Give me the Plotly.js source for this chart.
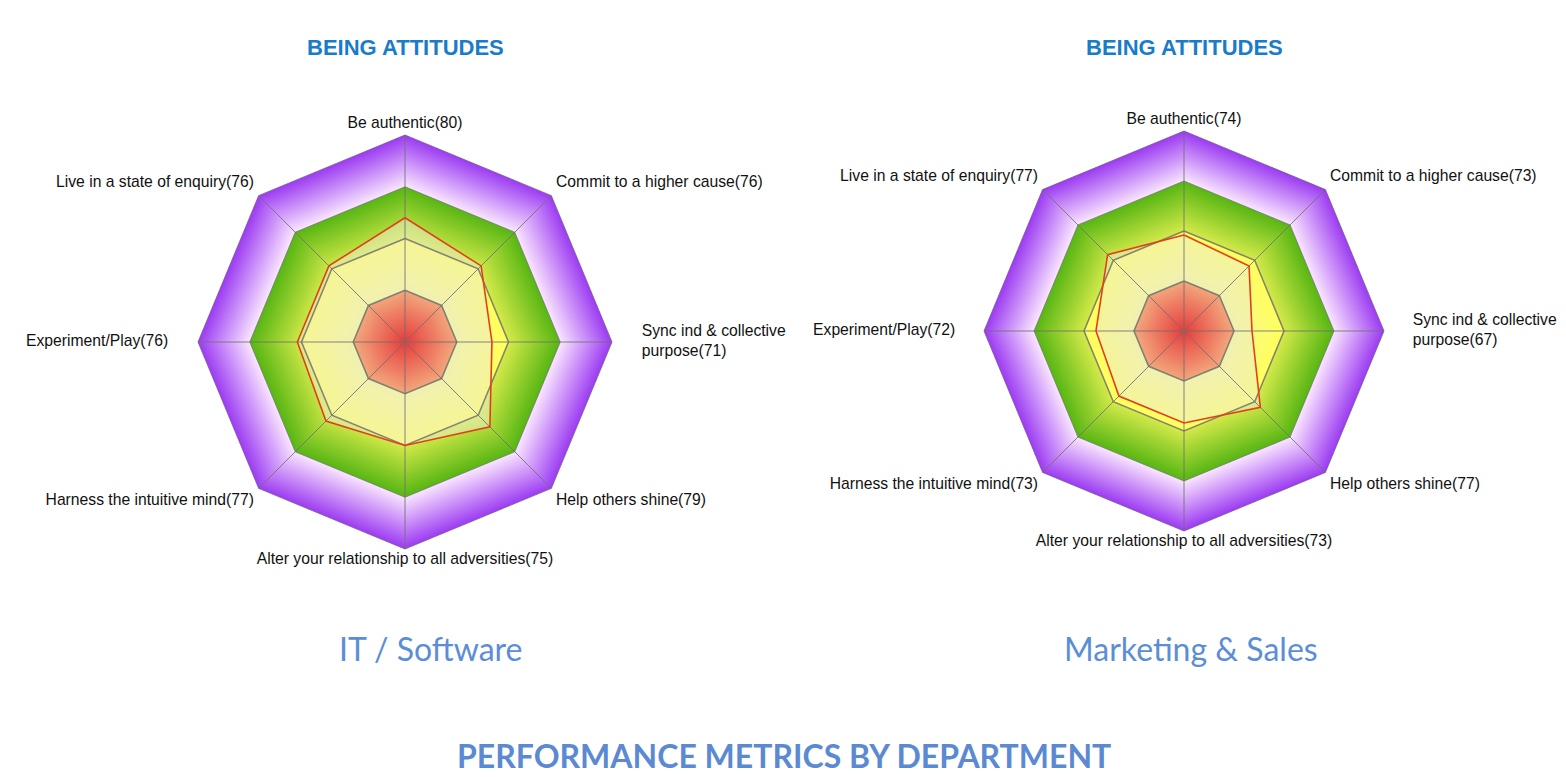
<!DOCTYPE html>
<html><head><meta charset="utf-8">
<script src="https://cdn.plot.ly/plotly-3.0.1.min.js"></script>
<style>html,body{margin:0;padding:0;background:#fff}#chart{width:1566px;height:777px}</style>
</head><body><div id="chart"></div>
<script>
// ---- data ----
const attitudes = ["Be authentic", "Commit to a higher cause", "Sync ind & collective<br>purpose", "Help others shine",
  "Alter your relationship to all adversities", "Harness the intuitive mind", "Experiment/Play", "Live in a state of enquiry"];
const itSoftware = [80, 76, 71, 79, 75, 77, 76, 76];
const marketingSales = [74, 73, 67, 77, 73, 73, 72, 77];
const departments = ["IT / Software", "Marketing & Sales"];
const bandEdges = [50, 62.5, 75, 87.5, 100];
const chartTitle = "BEING ATTITUDES";
const mainTitle = "PERFORMANCE METRICS BY DEPARTMENT";

// ---- styles ----
const bandColors = [
  ["#e63c3c", "#f2a67c"],   // inner red
  ["#f6f694", "#ffff5c"],   // yellow
  ["#d4ea4a", "#58b614"],   // green
  ["#fae6ff", "#9c3cf2"]    // purple
];
const W = 1566, H = 777;
const RMAX = 108;                       // radial room kept outside the chart for the labels
const charts = [{cx:405, cy:342, r:207}, {cx:1184, cy:331, r:200}];
function domainOf(c){
  const R = c.r*(RMAX-bandEdges[0])/(bandEdges[4]-bandEdges[0]);
  return {x:[(c.cx-R)/W, (c.cx+R)/W], y:[(H-c.cy-R)/H, (H-c.cy+R)/H]};
}
const STEPS = 26;
const labelFont = {family:'"Liberation Sans", Arial, sans-serif', size:15.7, color:'#111'};

function hex2rgb(h){return [parseInt(h.substr(1,2),16),parseInt(h.substr(3,2),16),parseInt(h.substr(5,2),16)];}
function mix(a,b,t){const A=hex2rgb(a),B=hex2rgb(b);return 'rgb('+A.map((v,i)=>Math.round(v+(B[i]-v)*t)).join(',')+')';}

const traces = [];
function ring(sub, labels, r, opts){
  const rr = labels.map(()=>r); rr.push(r);
  const th = labels.slice(); th.push(labels[0]);
  return Object.assign({type:'scatterpolar', subplot:sub, r:rr, theta:th, hoverinfo:'skip', showlegend:false}, opts);
}
function bandSteps(sub, labels, b){
  const e0 = bandEdges[b], e1 = bandEdges[b+1];
  for(let k=0;k<STEPS;k++){
    const r = e1 - k*(e1-e0)/STEPS;
    const t = 1 - (k+0.5)/STEPS;
    traces.push(ring(sub, labels, r, {mode:'lines', line:{width:0}, fill:'toself', fillcolor:mix(bandColors[b][0], bandColors[b][1], t)}));
  }
}

[itSoftware, marketingSales].forEach((vals, d)=>{
  const sub = d===0 ? 'polar' : 'polar2';
  const labels = attitudes.map((a,i)=>a+'('+vals[i]+')');
  for(let b=3;b>=1;b--) bandSteps(sub, labels, b);
  const rr = vals.slice(); rr.push(vals[0]);
  const th = labels.slice(); th.push(labels[0]);
  traces.push({type:'scatterpolar', subplot:sub, r:rr, theta:th, mode:'lines', line:{width:0},
    fill:'toself', fillcolor:'rgba(236,236,205,0.5)', hoverinfo:'skip', showlegend:false});
  bandSteps(sub, labels, 0);
  traces.push(ring(sub, labels, bandEdges[1], {mode:'lines', line:{color:'rgba(120,120,110,0.9)', width:1.6}}));
  traces.push(ring(sub, labels, bandEdges[2], {mode:'lines', line:{color:'rgba(120,120,110,0.9)', width:1.6}}));
  traces.push(ring(sub, labels, bandEdges[3], {mode:'lines', line:{color:'rgba(110,110,110,0.7)', width:1}}));
  traces.push(ring(sub, labels, bandEdges[4], {mode:'lines', line:{color:'rgba(120,90,150,0.8)', width:1}}));
  const sr = [], st = [];
  labels.forEach(l=>{ sr.push(bandEdges[0], bandEdges[4], null); st.push(l, l, l); });
  traces.push({type:'scatterpolar', subplot:sub, r:sr, theta:st, mode:'lines', connectgaps:false,
    line:{color:'rgba(110,110,110,0.85)', width:1}, hoverinfo:'skip', showlegend:false});
  traces.push({type:'scatterpolar', subplot:sub, r:rr, theta:th, mode:'lines',
    line:{color:'#e2401a', width:1.6}, hoverinfo:'skip', showlegend:false});
  // category labels just outside each vertex
  const n = labels.length, lr = [], pos = [];
  labels.forEach((l,i)=>{
    const a = 2*Math.PI*i/n, s = Math.sin(a), c = Math.cos(a);
    const h = Math.abs(s) < 0.2 ? 'center' : (s > 0 ? 'right' : 'left');
    const v = Math.abs(c) < 0.2 ? 'middle' : (c > 0 ? 'top' : 'bottom');
    pos.push(v+' '+h);
    const out = (v==='middle') ? 7.2 : (h==='center' ? 0.8 : 1.6);
    lr.push(bandEdges[4] + out);
  });
  traces.push({type:'scatterpolar', subplot:sub, r:lr, theta:labels, mode:'text', text:labels, textposition:pos,
    textfont:labelFont, cliponaxis:false, hoverinfo:'skip', showlegend:false});
});

function polarLayout(d, vals){
  const labels = attitudes.map((a,i)=>a+'('+vals[i]+')');
  return {
    domain: domainOf(charts[d]), gridshape:'linear', bgcolor:'rgba(0,0,0,0)', hole:0,
    radialaxis:{range:[bandEdges[0], RMAX], visible:false, showgrid:false},
    angularaxis:{type:'category', categoryorder:'array', categoryarray:labels, rotation:90, direction:'clockwise',
      showgrid:false, showline:false, ticks:'', showticklabels:false}
  };
}

const ann = (text, x, y, font) => ({text, xref:'paper', yref:'paper', x:x/W, y:1-y/H, xanchor:'center', yanchor:'middle', showarrow:false, font});
const titleFont = {family:'"Liberation Sans", Arial, sans-serif', size:22, color:'#1a7cc9'};
const deptFont = {family:'Lato, "Open Sans", sans-serif', size:32, color:'#5b8ed6'};
const layout = {
  width:W, height:H, margin:{l:0,r:0,t:0,b:0}, paper_bgcolor:'#fff', showlegend:false,
  polar: polarLayout(0, itSoftware),
  polar2: polarLayout(1, marketingSales),
  annotations:[
    ann('<b>'+chartTitle+'</b>', 405, 48, titleFont),
    ann('<b>'+chartTitle+'</b>', 1184, 48, titleFont),
    ann(departments[0], 430, 648, deptFont),
    ann(departments[1], 1191, 648, deptFont),
    ann('<b>'+mainTitle+'</b>', 784, 755, {family:'Lato, "Open Sans", sans-serif', size:32, color:'#5b8ad2'})
  ]
};
Plotly.newPlot('chart', traces, layout, {staticPlot:true, displayModeBar:false});
</script></body></html>
